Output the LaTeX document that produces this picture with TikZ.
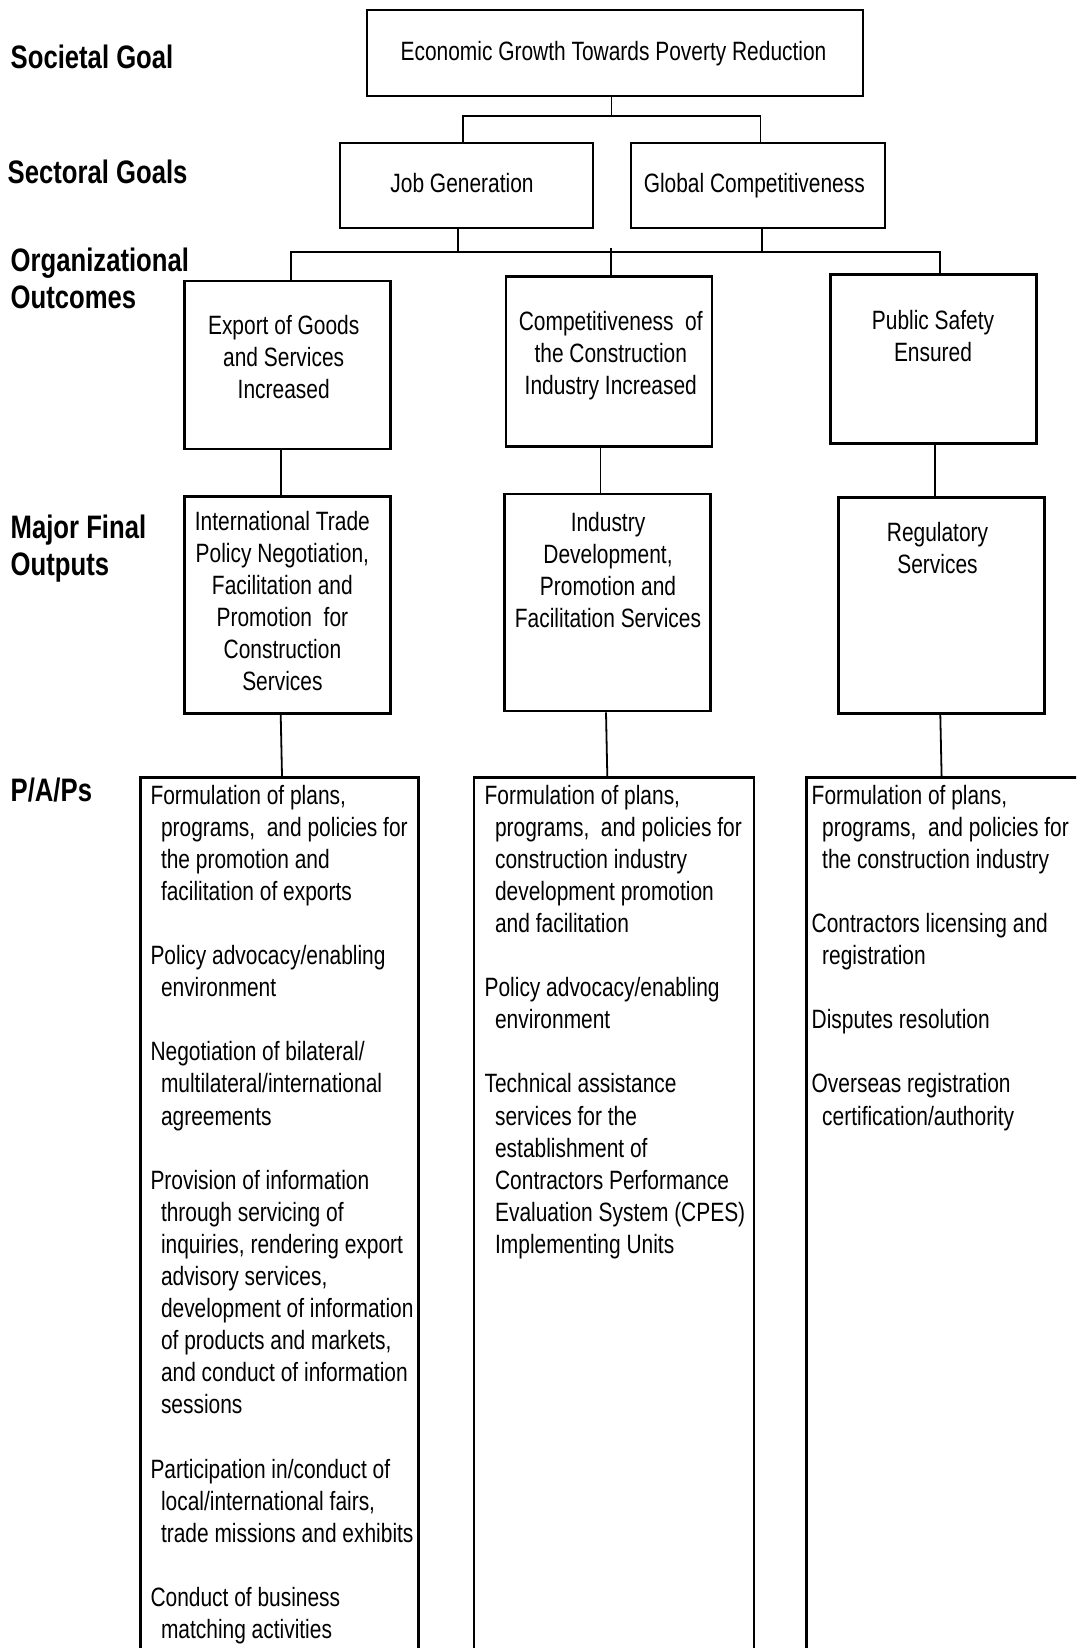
\documentclass[tikz,border=0pt]{standalone}
\usepackage{fontspec}
\setmainfont{Liberation Sans}[FakeStretch=0.79]
\newcommand\hind{\hspace*{10.5pt}}
\begin{document}
\begin{tikzpicture}[x=1pt,y=-1pt,
  box/.style={draw, line width=2.6pt, inner sep=0pt},
  conn/.style={line width=1.8pt},
  txt/.style={font=\fontsize{26.5}{32}\selectfont, align=center, inner sep=0pt, anchor=base},
  ptxt/.style={font=\fontsize{26.5}{32.1}\selectfont, align=left, inner sep=0pt, anchor=base west},
  lbl/.style={font=\fontsize{32.5}{36.6}\selectfont\bfseries, align=left, inner sep=0pt, anchor=base west}]
\fill[white] (0,0) rectangle (1076,1648);
\useasboundingbox (0,0) rectangle (1076,1648);
\clip (0,0) rectangle (1076,1648);

% boxes
\node[box, minimum width=496, minimum height=86] (econ) at (615,53) {};
\node[box, minimum width=253, minimum height=85] (job) at (466.5,185.5) {};
\node[box, minimum width=254, minimum height=85] (glob) at (758,185.5) {};
\node[box, minimum width=206, minimum height=168] (exp) at (287.5,365) {};
\node[box, minimum width=206, minimum height=170] (comp) at (609,361.7) {};
\node[box, minimum width=206, minimum height=169] (safe) at (933.5,358.8) {};
\node[box, minimum width=206, minimum height=216.6] (itrade) at (287.5,605) {};
\node[box, minimum width=206, minimum height=217] (indus) at (607.5,602.5) {};
\node[box, minimum width=206, minimum height=216] (reg) at (941.6,605.3) {};
\node[box, anchor=north west, minimum width=278, minimum height=950] (pap1) at (139.3,776) {};
\node[box, anchor=north west, minimum width=280, minimum height=950] (pap2) at (472.5,776) {};
\node[box, anchor=north west, minimum width=320, minimum height=950] (pap3) at (805,776) {};

% connectors level 1
\coordinate (j1) at (611.5,116);
\draw[conn] ([xshift=-3.5pt]econ.south) -- (j1);
\draw[conn] ([xshift=-3.5pt]job.north) |- (j1) -| ([xshift=2.5pt]glob.north);
% level 2
\coordinate (j2) at (610.8,252.3);
\coordinate (jd) at ([xshift=-8.7pt]job.south);
\coordinate (gd) at ([xshift=3.8pt]glob.south);
\draw[conn] (jd) -- (jd |- j2);
\draw[conn] (gd) -- (gd |- j2);
\draw[conn] ([xshift=3.5pt]exp.north) |- (j2) -| ([xshift=6.8pt]safe.north);
\draw[conn] ([yshift=4pt]j2) -- (j2 |- comp.north);
% level 3
\draw[conn] ([xshift=-6.8pt]exp.south) -- ([xshift=-6.8pt]itrade.north);
\draw[conn] ([xshift=-8.5pt]comp.south) -- ([xshift=-7pt]indus.north);
\draw[conn] ([xshift=1.3pt]safe.south) -- ([xshift=-6.8pt]reg.north);
% level 4
\draw[conn] ([xshift=-6.8pt]itrade.south) -- ([xshift=2.4pt]pap1.north);
\draw[conn] ([xshift=-1.5pt]indus.south) -- ([xshift=-6.5pt]pap2.north);
\draw[conn] ([xshift=-1.3pt]reg.south) -- ([xshift=-24.7pt]pap3.north);

% box texts (anchored at the baseline of the last line)
\node[txt] (econT) at (613.5,61) {Economic Growth Towards Poverty Reduction};
\node[txt] (jobT) at (462,192.5) {Job Generation};
\node[txt] (globT) at (754.3,192.5) {Global Competitiveness};
\node[txt] (expT) at (283.7,398) {Export of Goods\\and Services\\Increased};
\node[txt] (compT) at (610.8,394) {Competitiveness~ of\\the Construction\\Industry Increased};
\node[txt] (safeT) at (933,361) {Public Safety\\Ensured};
\node[txt] (itradeT) at (282.4,690.5) {International Trade\\Policy Negotiation,\\Facilitation and\\Promotion~ for\\Construction\\Services};
\node[txt] (indusT) at (608,627.5) {Industry\\Development,\\Promotion and\\Facilitation Services};
\node[txt] (regT) at (937.5,573.3) {Regulatory\\Services};

% P/A/P texts
\node[ptxt] (pap1T) at (150.3,1638.6) {Formulation of plans,\\
\hind programs,~ and policies for\\
\hind the promotion and\\
\hind facilitation of exports\\[32.1pt]
Policy advocacy/enabling\\
\hind environment\\[32.1pt]
Negotiation of bilateral/\\
\hind multilateral/international\\
\hind agreements\\[32.1pt]
Provision of information\\
\hind through servicing of\\
\hind inquiries, rendering export\\
\hind advisory services,\\
\hind development of information\\
\hind of products and markets,\\
\hind and conduct of information\\
\hind sessions\\[32.1pt]
Participation in/conduct of\\
\hind local/international fairs,\\
\hind trade missions and exhibits\\[32.1pt]
Conduct of business\\
\hind matching activities};

\node[ptxt] (pap2T) at (484.4,1253.4) {Formulation of plans,\\
\hind programs,~ and policies for\\
\hind construction industry\\
\hind development promotion\\
\hind and facilitation\\[32.1pt]
Policy advocacy/enabling\\
\hind environment\\[32.1pt]
Technical assistance\\
\hind services for the\\
\hind establishment of\\
\hind Contractors Performance\\
\hind Evaluation System (CPES)\\
\hind Implementing Units};

\node[ptxt] (pap3T) at (811.5,1125) {Formulation of plans,\\
\hind programs,~ and policies for\\
\hind the construction industry\\[32.1pt]
Contractors licensing and\\
\hind registration\\[32.1pt]
Disputes resolution\\[32.1pt]
Overseas registration\\
\hind certification/authority};

% level labels
\node[lbl] (l1) at (10.5,68.3) {Societal Goal};
\node[lbl] (l2) at (7.5,183.3) {Sectoral Goals};
\node[lbl] (l3) at (10.5,308.3) {Organizational\\Outcomes};
\node[lbl] (l4) at (10.5,575) {Major Final\\[0.2pt]Outputs};
\node[lbl] (l5) at (10.5,801.7) {P/A/Ps};
\end{tikzpicture}
\end{document}
